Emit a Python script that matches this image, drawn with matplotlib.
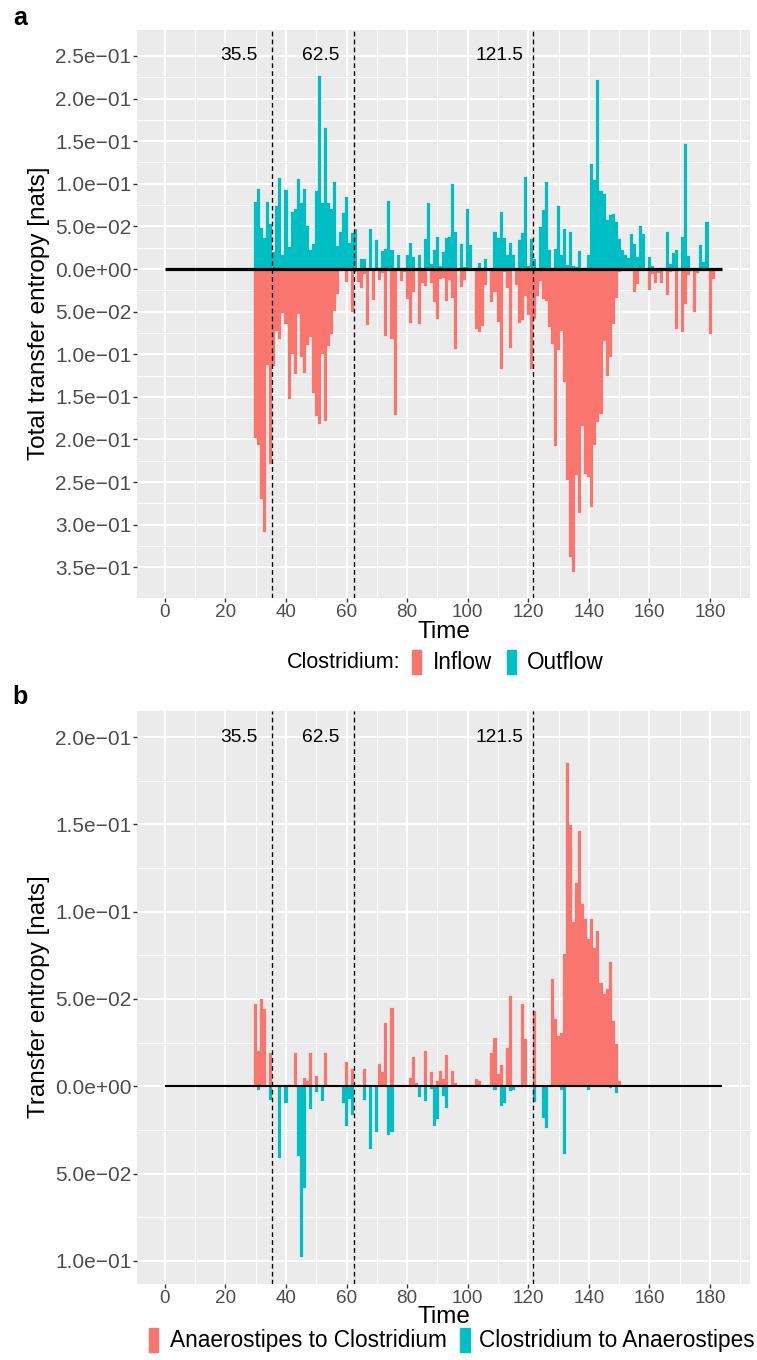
import matplotlib
matplotlib.use("Agg")
import matplotlib.pyplot as plt
import numpy as np
from matplotlib.patches import Rectangle

plt.rcParams['font.family'] = ['Liberation Sans', 'DejaVu Sans']

# ---------------- data ----------------
# Panel a: total transfer entropy of Clostridium, time 30..181
time_a = np.arange(30, 182)
outflow = [
    0.079, 0.094, 0.048, 0.036, 0.079, 0.053, 0.020, 0.074, 0.107, 0.016,   # 30-39
    0.093, 0.026, 0.067, 0.070, 0.106, 0.077, 0.094, 0.051, 0.022, 0.029,   # 40-49
    0.091, 0.226, 0.078, 0.165, 0.077, 0.070, 0.102, 0.027, 0.044, 0.066,   # 50-59
    0.085, 0.031, 0.042, 0.047, 0.000, 0.012, 0.012, 0.000, 0.047, 0.000,   # 60-69
    0.034, 0.000, 0.021, 0.023, 0.080, 0.022, 0.000, 0.016, 0.000, 0.000,   # 70-79
    0.016, 0.030, 0.014, 0.000, 0.016, 0.000, 0.035, 0.078, 0.006, 0.022,   # 80-89
    0.038, 0.004, 0.020, 0.036, 0.038, 0.100, 0.043, 0.000, 0.029, 0.002,   # 90-99
    0.070, 0.028, 0.000, 0.000, 0.007, 0.000, 0.012, 0.000, 0.000, 0.043,   # 100-109
    0.036, 0.067, 0.036, 0.016, 0.031, 0.016, 0.000, 0.034, 0.042, 0.108,   # 110-119
    0.003, 0.035, 0.012, 0.000, 0.049, 0.069, 0.102, 0.022, 0.000, 0.023,   # 120-129
    0.074, 0.016, 0.047, 0.005, 0.043, 0.004, 0.002, 0.021, 0.000, 0.000,   # 130-139
    0.016, 0.123, 0.105, 0.222, 0.092, 0.088, 0.057, 0.063, 0.064, 0.055,   # 140-149
    0.035, 0.022, 0.016, 0.013, 0.041, 0.029, 0.014, 0.050, 0.041, 0.000,   # 150-159
    0.014, 0.004, 0.000, 0.000, 0.000, 0.000, 0.043, 0.006, 0.019, 0.022,   # 160-169
    0.000, 0.037, 0.147, 0.015, 0.000, 0.000, 0.000, 0.028, 0.008, 0.055,   # 170-179
    0.000, 0.000,                                                           # 180-181
]
inflow = [
    0.198, 0.206, 0.270, 0.308, 0.113, 0.229, 0.114, 0.073, 0.082, 0.052,   # 30-39
    0.065, 0.152, 0.100, 0.123, 0.053, 0.103, 0.122, 0.089, 0.080, 0.145,   # 40-49
    0.172, 0.182, 0.100, 0.178, 0.090, 0.076, 0.049, 0.029, 0.002, 0.000,   # 50-59
    0.015, 0.000, 0.051, 0.003, 0.015, 0.022, 0.006, 0.066, 0.001, 0.036,   # 60-69
    0.000, 0.013, 0.005, 0.079, 0.002, 0.082, 0.171, 0.000, 0.014, 0.004,   # 70-79
    0.035, 0.063, 0.027, 0.000, 0.065, 0.017, 0.020, 0.000, 0.017, 0.039,   # 80-89
    0.059, 0.012, 0.011, 0.038, 0.013, 0.034, 0.094, 0.000, 0.021, 0.013,   # 90-99
    0.001, 0.000, 0.000, 0.070, 0.074, 0.067, 0.019, 0.000, 0.039, 0.027,   # 100-109
    0.062, 0.117, 0.004, 0.022, 0.093, 0.000, 0.019, 0.063, 0.060, 0.032,   # 110-119
    0.054, 0.117, 0.059, 0.032, 0.014, 0.035, 0.037, 0.068, 0.088, 0.208,   # 120-129
    0.095, 0.073, 0.132, 0.248, 0.338, 0.356, 0.242, 0.286, 0.184, 0.240,   # 130-139
    0.244, 0.279, 0.206, 0.180, 0.170, 0.084, 0.125, 0.103, 0.065, 0.034,   # 140-149
    0.003, 0.000, 0.000, 0.000, 0.000, 0.027, 0.018, 0.000, 0.000, 0.000,   # 150-159
    0.025, 0.006, 0.016, 0.005, 0.017, 0.000, 0.031, 0.003, 0.002, 0.070,   # 160-169
    0.000, 0.074, 0.041, 0.007, 0.000, 0.051, 0.005, 0.000, 0.000, 0.000,   # 170-179
    0.076, 0.012,                                                           # 180-181
]

# Panel b: pairwise transfer entropy, time 30..150
time_b = np.arange(30, 151)
anaero_to_clos = [
    0.047, 0.020, 0.050, 0.044, 0.000, 0.019, 0.000, 0.001, 0.000, 0.000,   # 30-39
    0.000, 0.001, 0.000, 0.019, 0.000, 0.000, 0.005, 0.003, 0.019, 0.000,   # 40-49
    0.006, 0.000, 0.000, 0.019, 0.000, 0.000, 0.000, 0.000, 0.000, 0.000,   # 50-59
    0.014, 0.000, 0.010, 0.000, 0.000, 0.000, 0.010, 0.000, 0.000, 0.000,   # 60-69
    0.000, 0.013, 0.008, 0.036, 0.000, 0.045, 0.000, 0.000, 0.000, 0.000,   # 70-79
    0.000, 0.005, 0.017, 0.002, 0.000, 0.000, 0.020, 0.000, 0.008, 0.000,   # 80-89
    0.003, 0.009, 0.004, 0.018, 0.000, 0.009, 0.002, 0.000, 0.000, 0.000,   # 90-99
    0.000, 0.000, 0.000, 0.004, 0.003, 0.000, 0.000, 0.000, 0.019, 0.0275,  # 100-109
    0.007, 0.012, 0.000, 0.022, 0.052, 0.000, 0.000, 0.000, 0.047, 0.027,   # 110-119
    0.000, 0.000, 0.043, 0.000, 0.000, 0.000, 0.000, 0.000, 0.0614, 0.0384, # 120-129
    0.0289, 0.0304, 0.0757, 0.1852, 0.1497, 0.0942, 0.1164, 0.1464, 0.1044, 0.0958,  # 130-139
    0.0843, 0.0958, 0.0791, 0.0889, 0.0591, 0.0528, 0.0556, 0.0711, 0.0373, 0.0241,  # 140-149
    0.0029,                                                                 # 150
]
clos_to_anaero = [
    0.000, 0.0023, 0.000, 0.000, 0.000, 0.008, 0.000, 0.000, 0.041, 0.000,  # 30-39
    0.0097, 0.000, 0.000, 0.000, 0.040, 0.098, 0.058, 0.000, 0.013, 0.000,  # 40-49
    0.003, 0.000, 0.0086, 0.000, 0.000, 0.000, 0.000, 0.000, 0.000, 0.0097, # 50-59
    0.023, 0.0075, 0.0166, 0.000, 0.000, 0.000, 0.008, 0.000, 0.036, 0.000, # 60-69
    0.026, 0.000, 0.000, 0.000, 0.028, 0.026, 0.000, 0.000, 0.000, 0.000,   # 70-79
    0.000, 0.000, 0.000, 0.000, 0.0063, 0.000, 0.0086, 0.000, 0.0017, 0.023,  # 80-89
    0.019, 0.000, 0.0057, 0.0126, 0.000, 0.000, 0.000, 0.000, 0.000, 0.000, # 90-99
    0.000, 0.000, 0.000, 0.000, 0.000, 0.000, 0.000, 0.000, 0.000, 0.0023, # 100-109
    0.000, 0.0115, 0.0097, 0.000, 0.0029, 0.0023, 0.000, 0.000, 0.000, 0.000,  # 110-119
    0.000, 0.000, 0.0092, 0.000, 0.000, 0.018, 0.024, 0.000, 0.000, 0.000,  # 120-129
    0.000, 0.002, 0.039, 0.000, 0.000, 0.000, 0.000, 0.000, 0.000, 0.000,   # 130-139
    0.002, 0.000, 0.000, 0.000, 0.000, 0.000, 0.000, 0.001, 0.000, 0.004,   # 140-149
    0.000,                                                                  # 150
]

change_points = [35.5, 62.5, 121.5]
x_ticks = [0, 20, 40, 60, 80, 100, 120, 140, 160, 180]
y_ticks_a = [-0.35, -0.30, -0.25, -0.20, -0.15, -0.10, -0.05, 0.0, 0.05, 0.10, 0.15, 0.20, 0.25]
y_ticks_b = [-0.10, -0.05, 0.0, 0.05, 0.10, 0.15, 0.20]

# ---------------- style ----------------
SALMON = '#F8766D'
TEAL = '#00BFC4'
PANEL = '#EBEBEB'
W, H = 757, 1360

fig = plt.figure(figsize=(W / 100, H / 100), dpi=100)


def add_ax(left, top, right, bottom):
    return fig.add_axes([left / W, 1 - bottom / H, (right - left) / W, (bottom - top) / H])


def fmt(v):
    if abs(v) < 1e-12:
        return '0.0e+00'
    return f'{abs(v):.1e}'.replace('-', '\u2212')


def draw_panel(ax, t, pos, neg, pos_color, neg_color, yticks, ylim, label_y, zero_lw):
    t = np.asarray(t)
    pos = np.asarray(pos)
    neg = np.asarray(neg)
    ax.set_facecolor(PANEL)
    mp = pos > 0
    mn = neg > 0
    ax.bar(t[mp], pos[mp], width=1.0, color=pos_color, edgecolor=pos_color,
           linewidth=0.15, zorder=3)
    ax.bar(t[mn], -neg[mn], width=1.0, color=neg_color, edgecolor=neg_color,
           linewidth=0.15, zorder=3)
    ax.plot([0, 184], [0, 0], color='black', lw=zero_lw, zorder=4, solid_capstyle='butt')
    for cp in change_points:
        ax.axvline(cp, color='black', lw=0.95, ls=(0, (3.6, 2.4)), zorder=5)
        ax.text(cp - 11, label_y, f'{cp}', ha='center', va='center', fontsize=13.8,
                color='black', zorder=6)
    ax.set_xlim(-9.2, 193.2)
    ax.set_ylim(*ylim)
    ax.set_xticks(x_ticks)
    ax.set_xticks(np.arange(10, 191, 20), minor=True)
    ax.set_yticks(yticks)
    ax.set_yticklabels([fmt(v) for v in yticks])
    ax.set_yticks(np.array(yticks[:-1]) + 0.025, minor=True)
    ax.grid(which='major', color='white', lw=1.4, zorder=0)
    ax.grid(which='minor', color='white', lw=0.7, zorder=0)
    ax.set_axisbelow(True)
    for s in ax.spines.values():
        s.set_visible(False)
    ax.tick_params(which='major', length=2.75, width=1.0, color='#333333',
                   labelcolor='#4D4D4D')
    ax.tick_params(axis='x', which='major', pad=1.8, labelsize=13.6)
    ax.tick_params(axis='y', which='major', pad=1.2, labelsize=15.0)
    ax.tick_params(which='minor', length=0)


ax_a = add_ax(137, 29.5, 750, 598)
ax_b = add_ax(137, 711, 750, 1283.5)

draw_panel(ax_a, time_a, outflow, inflow, TEAL, SALMON, y_ticks_a, (-0.386, 0.281), 0.25, 2.3)
draw_panel(ax_b, time_b, anaero_to_clos, clos_to_anaero, SALMON, TEAL, y_ticks_b,
           (-0.113, 0.215), 0.2, 1.5)

# axis titles
fig.text(443.5 / W, 1 - 632 / H, 'Time', ha='center', va='center', fontsize=17.5)
fig.text(443.5 / W, 1 - 1317 / H, 'Time', ha='center', va='center', fontsize=17.5)
fig.text(39 / W, 1 - 313 / H, 'Total transfer entropy [nats]', rotation=90,
         ha='center', va='center', fontsize=17.5)
fig.text(39 / W, 1 - 997 / H, 'Transfer entropy [nats]', rotation=90,
         ha='center', va='center', fontsize=17.5)

# panel tags
fig.text(20 / W, 1 - 18 / H, 'a', ha='center', va='center', fontsize=18, fontweight='bold')
fig.text(20 / W, 1 - 697 / H, 'b', ha='center', va='center', fontsize=18, fontweight='bold')


def key(x, yc, color):
    fig.patches.append(Rectangle((x / W, 1 - (yc + 12) / H), 9.5 / W, 24 / H,
                                 transform=fig.transFigure, color=color, zorder=5))


# legend a
fig.text(287 / W, 1 - 662 / H, 'Clostridium:', ha='left', va='center', fontsize=15.5)
key(411.5, 662, SALMON)
fig.text(433 / W, 1 - 662 / H, 'Inflow', ha='left', va='center', fontsize=16.3)
key(506.5, 662, TEAL)
fig.text(527 / W, 1 - 662 / H, 'Outflow', ha='left', va='center', fontsize=16.3)

# legend b
key(148.5, 1340, SALMON)
fig.text(170 / W, 1 - 1340 / H, 'Anaerostipes to Clostridium', ha='left', va='center', fontsize=16.3)
key(460, 1340, TEAL)
fig.text(479 / W, 1 - 1340 / H, 'Clostridium to Anaerostipes', ha='left', va='center', fontsize=16.3)

fig.savefig('out.png', dpi=100)
